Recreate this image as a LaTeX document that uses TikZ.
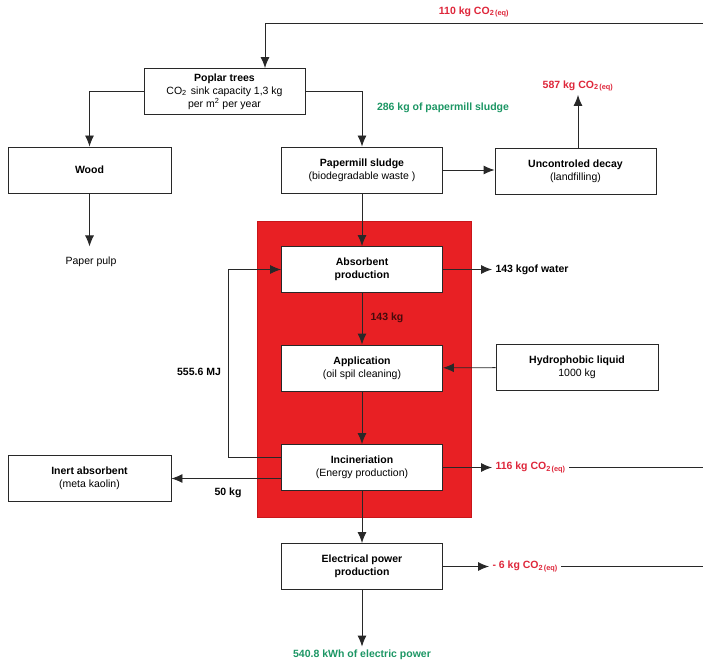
\documentclass[tikz,border=0pt]{standalone}
\usepackage{fontspec}
\setmainfont{Liberation Sans}
\usepackage{xcolor}
\definecolor{corered}{RGB}{232,32,36}
\definecolor{coreedge}{RGB}{200,22,26}
\definecolor{emitred}{RGB}{222,38,58}
\definecolor{massgreen}{RGB}{28,150,100}
\definecolor{darkline}{RGB}{40,40,40}
\usetikzlibrary{arrows.meta}
\newcommand{\cotwo}[1]{CO\textsubscript{2\,#1}}
\newcommand{\boxtext}[2]{\textbf{#1}\\#2}
\newcommand{\boxwidth}{161pt}
\tikzset{
    common/.style={font=\fontsize{10.5}{13}\selectfont, align=center},
    stage/.style={common, draw=darkline, fill=white, line width=0.9pt, rectangle, minimum width=\boxwidth, minimum height=46pt, inner sep=2pt},
    core/.style={draw=coreedge, fill=corered, line width=0.8pt, minimum width=214pt, minimum height=296pt},
    tag/.style={common, font=\fontsize{10.5}{13}\selectfont\bfseries},
    emit/.style={tag, emitred},
    mass/.style={tag, massgreen},
    flow/.style={-{Latex[length=11pt,width=9pt]}, line width=0.9pt, darkline},
    plain/.style={line width=0.9pt, darkline}
}
\begin{document}
\begin{tikzpicture}[x=1pt, y=-1pt]
    \useasboundingbox (0,0) rectangle (703,663);

    \node[core] (coreblock) at (364,369) {};

    \node[stage] (trees) at (224.5,91.5) {\boxtext{Poplar trees}{\cotwo{} sink capacity 1,3 kg\\per m\textsuperscript{2} per year}};
    \node[stage, minimum width=163pt] (wood) at (89.5,170) {\textbf{Wood}};
    \node[stage] (sludge) at (362,170) {\boxtext{Papermill sludge}{(biodegradable waste )}};
    \node[stage] (decay) at (575.5,171) {\boxtext{Uncontroled decay}{(landfilling)}};
    \node[stage] (absorb) at (362,269.5) {\textbf{Absorbent}\\\textbf{production}};
    \node[stage] (apply) at (362,368) {\boxtext{Application}{(oil spil cleaning)}};
    \node[stage, minimum width=162pt] (hydro) at (577,367.5) {\boxtext{Hydrophobic liquid}{1000 kg}};
    \node[stage] (burn) at (362,467.5) {\boxtext{Incineriation}{(Energy production)}};
    \node[stage, minimum width=163pt] (inert) at (89.5,478.5) {\boxtext{Inert absorbent}{(meta kaolin)}};
    \node[stage] (power) at (362,566.5) {\textbf{Electrical power}\\\textbf{production}};

    \node[emit] (cotop) at (474,12) {110 kg \cotwo{(eq)}};
    \node[common] (pulp) at (91,262) {Paper pulp};
    \node[mass] (sludgemass) at (443,108) {286 kg of papermill sludge};
    \node[emit] (codecay) at (578,86) {587 kg \cotwo{(eq)}};
    \node[tag, anchor=west] (water) at (492,269.5) {143 kgof water};
    \node[tag, text=black!70!corered] (midmass) at (387,318) {143 kg};
    \node[tag] (energy) at (199,372) {555.6 MJ};
    \node[tag] (ash) at (228,493) {50 kg};
    \node[emit, anchor=west] (coburn) at (492,467.5) {116 kg \cotwo{(eq)}};
    \node[emit, anchor=west] (copower) at (489,566.5) {- 6 kg \cotwo{(eq)}};
    \node[mass] (kwh) at (362,655) {540.8 kWh of electric power};

    \coordinate (topright) at (703,23);
    \coordinate (treein) at (265,23);
    \coordinate (burnright) at (703,467.5);
    \coordinate (powerright) at (703,566.5);

    \draw[flow] (topright) -- (treein) -- (treein |- trees.north);
    \draw[flow] (trees.west) -| (wood.north);
    \draw[flow] (trees.east) -| (sludge.north);
    \draw[flow] (wood.south) -- ++(0,53);
    \draw[flow] (sludge) -- (decay.west |- sludge);
    \draw[flow] (decay.north -| codecay) -- (codecay.south);
    \draw[flow] (sludge) -- (absorb);
    \draw[flow] (absorb.east) -- (water.west);
    \draw[flow] (absorb) -- (apply);
    \draw[flow] (hydro) -- (apply);
    \draw[flow] (apply) -- (burn);
    \draw[flow] ([yshift=10pt]burn.west) -- ++(-53,0) |- (absorb.west);
    \draw[flow] (burn.west |- inert.east) -- (inert.east);
    \draw[flow] (burn.east) -- (coburn.west);
    \draw[plain] (coburn.east) -- (burnright);
    \draw[flow] (burn) -- (power);
    \draw[flow] (power.east) -- (copower.west);
    \draw[plain] (copower.east) -- (powerright);
    \draw[flow] (power.south) -- (kwh.north);
\end{tikzpicture}
\end{document}
